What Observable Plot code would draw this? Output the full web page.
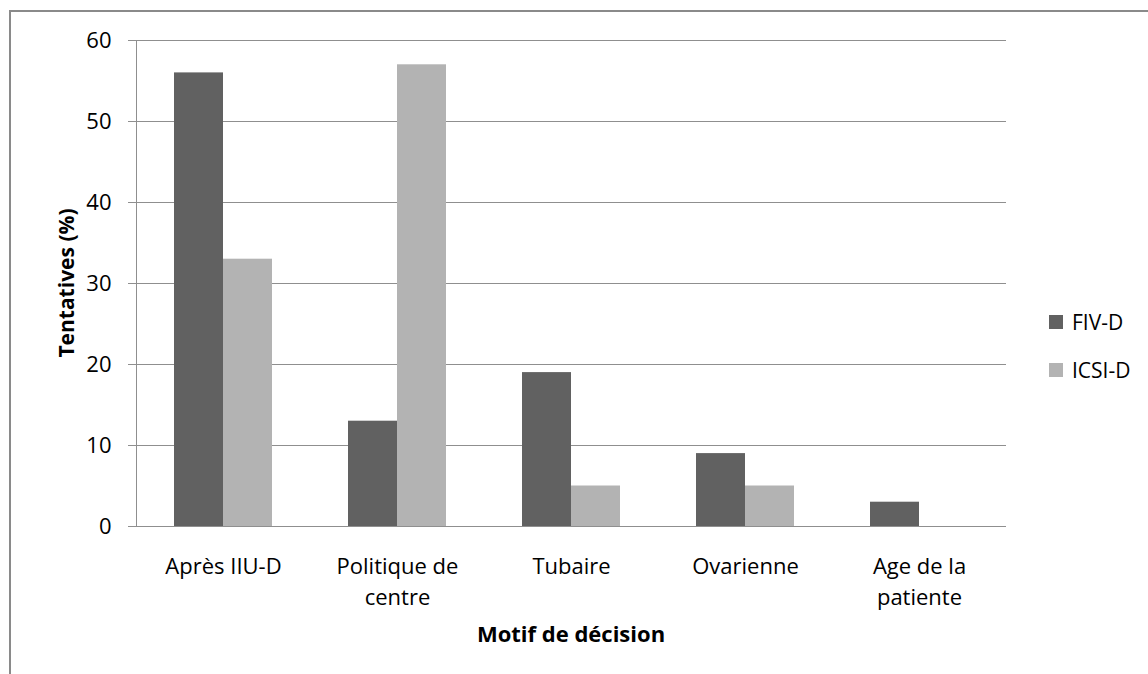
<!DOCTYPE html>
<html>
<head>
<meta charset="utf-8">
<script src="https://cdn.jsdelivr.net/npm/d3@7"></script>
<script src="https://cdn.jsdelivr.net/npm/@observablehq/plot@0.6"></script>
<style>
  html, body { margin: 0; padding: 0; background: #fff; }
  #wrap { position: relative; width: 1148px; height: 674px; overflow: hidden; font-family: "Open Sans", sans-serif; }
  #border { position: absolute; left: 9px; top: 10px; width: 1160px; height: 700px; border-left: 2px solid #8a8a8a; border-top: 2px solid #8a8a8a; }
  #chart { position: absolute; left: 0; top: 0; }
  .ytitle { position: absolute; left: 66px; top: 283px; transform: translate(-50%, -50%) rotate(-90deg); font-weight: bold; font-size: 21px; white-space: nowrap; color: #000; }
  .xtitle { position: absolute; left: 571px; top: 618px; transform: translateX(-50%); font-weight: bold; font-size: 22px; white-space: nowrap; color: #000; }
  .legend { position: absolute; left: 1049px; top: 306px; font-size: 21px; color: #000; }
  .legend .item { display: flex; align-items: center; height: 32px; margin-bottom: 16px; }
  .legend .sw { width: 14px; height: 14px; margin-right: 9px; }
</style>
</head>
<body>
<div id="wrap">
  <div id="chart"></div>
  <div id="border"></div>
  <div class="ytitle">Tentatives (%)</div>
  <div class="xtitle">Motif de décision</div>
  <div class="legend" id="legend"></div>
</div>
<script>
const categories = ["Après IIU-D", "Politique de centre", "Tubaire", "Ovarienne", "Age de la patiente"];
const categoryLabels = ["Après IIU-D", "Politique de\ncentre", "Tubaire", "Ovarienne", "Age de la\npatiente"];
const series = ["FIV-D", "ICSI-D"];
const fivD = [56, 13, 19, 9, 3];
const icsiD = [33, 57, 5, 5, 0];
const yTicks = [0, 10, 20, 30, 40, 50, 60];
const colors = ["#616161", "#b3b3b3"];

const rows = [];
categories.forEach((c, i) => {
  rows.push({category: c, series: series[0], value: fivD[i]});
  rows.push({category: c, series: series[1], value: icsiD[i]});
});

const axisColor = "#8f8f8f";

const chart = Plot.plot({
  width: 1148,
  height: 674,
  marginLeft: 135,
  marginRight: 141,
  marginTop: 40,
  marginBottom: 148,
  style: {fontFamily: "Open Sans, sans-serif", fontSize: "22px", background: "transparent", color: "#000"},
  fx: {domain: categories, padding: 0, label: null},
  x: {domain: series, paddingInner: 0, paddingOuter: 0.76, axis: null},
  y: {domain: [0, 60], label: null},
  color: {domain: series, range: colors},
  marks: [
    Plot.gridY(yTicks, {stroke: axisColor, strokeOpacity: 1, strokeWidth: 1}),
    Plot.barY(rows, {fx: "category", x: "series", y: "value", fill: "series"}),
    Plot.frame({anchor: "left", facetAnchor: "left", stroke: axisColor, strokeWidth: 1}),
    Plot.axisY({ticks: yTicks, tickSize: 8, tickPadding: 17, stroke: axisColor, fill: "#000", label: null}),
    Plot.axisFx({anchor: "bottom", tickSize: 0, tickPadding: 26, label: null, lineHeight: 1.4,
      tickFormat: (d) => categoryLabels[categories.indexOf(d)]})
  ]
});
document.getElementById("chart").appendChild(chart);

const legend = document.getElementById("legend");
series.forEach((s, i) => {
  const item = document.createElement("div");
  item.className = "item";
  const sw = document.createElement("span");
  sw.className = "sw";
  sw.style.background = colors[i];
  const t = document.createElement("span");
  t.textContent = s;
  item.appendChild(sw);
  item.appendChild(t);
  legend.appendChild(item);
});
</script>
</body>
</html>
